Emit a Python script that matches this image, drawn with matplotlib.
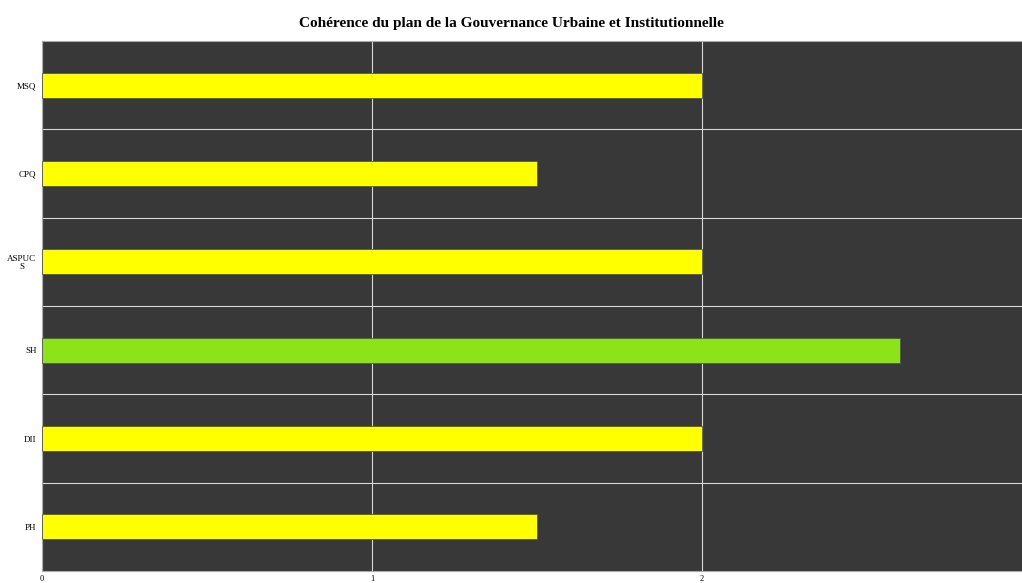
import numpy as np
import matplotlib
matplotlib.use("Agg")
import matplotlib.pyplot as plt

# données (du haut vers le bas)
categories = ["MSQ", "CPQ", "ASPUC\nS", "SH", "DII", "PH"]
scores = [2, 1.5, 2, 2.6, 2, 1.5]
colors = ["#FFFF00", "#FFFF00", "#FFFF00", "#8CE317", "#FFFF00", "#FFFF00"]
x_ticks = [0, 1, 2]

plt.rcParams["font.family"] = ["Liberation Serif", "DejaVu Serif"]

fig = plt.figure(figsize=(10.22, 5.83), dpi=100)
ax = fig.add_axes([42 / 1022, 12 / 583, 990 / 1022, 530 / 583])
ax.set_facecolor("#383838")

n = len(categories)
ypos = np.arange(n)[::-1]
ax.barh(ypos, scores, height=0.28, color=colors, edgecolor="#555555", linewidth=0.6, zorder=3)

ax.set_xlim(0, 3)
ax.set_ylim(-0.5, n - 0.5)
ax.set_yticks(ypos)
ax.set_yticklabels(categories, fontsize=6.5, linespacing=1.1, multialignment="center")
ax.set_xticks(x_ticks)
ax.set_xticklabels([str(t) for t in x_ticks], fontsize=6)
ax.set_yticks(np.arange(n - 1) + 0.5, minor=True)
ax.tick_params(axis="both", which="both", length=0, pad=4)
ax.tick_params(axis="x", pad=3)

ax.grid(True, axis="x", which="major", color="#d8d8d8", linewidth=0.8, zorder=1)
ax.grid(True, axis="y", which="minor", color="#d8d8d8", linewidth=0.8, zorder=1)
ax.grid(False, axis="y", which="major")
for side in ax.spines.values():
    side.set_color("#aaaaaa")
    side.set_linewidth(0.8)

fig.suptitle("Cohérence du plan de la Gouvernance Urbaine et Institutionnelle",
             fontsize=11, fontweight="bold", y=0.97)

fig.savefig("out.png", dpi=100)
